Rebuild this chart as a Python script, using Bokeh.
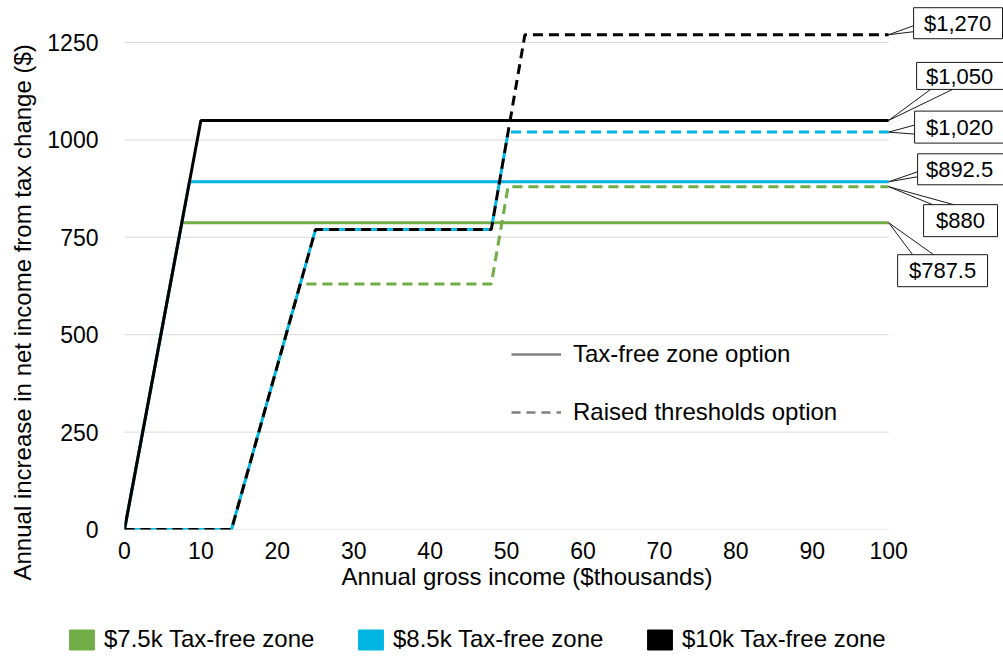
from bokeh.core.properties import value
from bokeh.embed import file_html
from bokeh.layouts import column
from bokeh.models import FixedTicker, Legend, LegendItem, Range1d, Title
from bokeh.plotting import figure
from bokeh.resources import INLINE

# ---------------------------------------------------------------- data
series_names = ["$7.5k Tax-free zone", "$8.5k Tax-free zone", "$10k Tax-free zone"]
series_colors = ["#70AD47", "#00B5E2", "#000000"]

# Tax-free zone option: gain climbs until the zone is used up, then flat
tfz_income = [[0, 7.5, 100], [0, 8.5, 100], [0, 10, 100]]
tfz_gain = [[0, 787.5, 787.5], [0, 892.5, 892.5], [0, 1050, 1050]]

# Raised thresholds option
rt_income = [
    [0, 14, 23, 48, 50.2, 100],
    [0, 14, 25, 48, 50.2, 100],
    [0, 14, 25, 48, 52.4, 100],
]
rt_gain = [
    [0, 0, 630, 630, 880, 880],
    [0, 0, 770, 770, 1020, 1020],
    [0, 0, 770, 770, 1270, 1270],
]

x_ticks = [0, 10, 20, 30, 40, 50, 60, 70, 80, 90, 100]
y_ticks = [0, 250, 500, 750, 1000, 1250]

# end-of-line value callouts
callout_values = [1270, 1050, 1020, 892.5, 880, 787.5]
callout_labels = ["$1,270", "$1,050", "$1,020", "$892.5", "$880", "$787.5"]

# ---------------------------------------------------------------- layout
FONT = "Liberation Sans"
W = 1003
MAIN_H, KEY_H = 600, 57
LEFT, FRAME_H = 123, 529         # frame offset / height (px)
X_PX = 7.65                      # px per $thousand
Y_PX = 0.3896                    # px per $
NAN = float("nan")

# callout geometry in px, relative to the line end:
# box (left, right, top, bottom), two pointer base points, text centre
callout_geom = [
    ((25, 114, -27, 4), [(25, -9), (25, -3)], (69, -11)),
    ((28, 125, -58, -31), [(42, -31), (64, -31)], (71, -44)),
    ((26, 125, -21, 11), [(26, -7), (26, 2)], (71, -5)),
    ((29, 125, -28, 3), [(29, -10), (29, -5)], (71, -12)),
    ((35, 109, 18, 50), [(44, 18), (65, 18)], (72, 34)),
    ((9, 99, 32, 64), [(24, 32), (45, 32)], (54, 48)),
]


def dx(px):
    return px / X_PX


def dy(px):
    return -px / Y_PX


p = figure(
    width=W, height=MAIN_H, output_backend="svg", toolbar_location=None,
    x_range=Range1d(0, (W - LEFT) / X_PX), y_range=Range1d(0, FRAME_H / Y_PX),
    min_border_left=LEFT, min_border_right=0, min_border_top=0,
    min_border_bottom=MAIN_H - FRAME_H,
)
p.frame_align = False
p.outline_line_color = None
p.background_fill_color = "white"
p.border_fill_color = "white"
p.xgrid.visible = False
p.ygrid.visible = False

for ax in (p.xaxis[0], p.yaxis[0]):
    ax.axis_line_color = None
    ax.major_tick_line_color = None
    ax.minor_tick_line_color = None
    ax.major_tick_in = 0
    ax.major_tick_out = 0
    ax.major_label_text_font = FONT
    ax.major_label_text_font_size = "23px"
    ax.major_label_text_color = "black"
p.xaxis.ticker = FixedTicker(ticks=x_ticks)
p.yaxis.ticker = FixedTicker(ticks=y_ticks)
p.xaxis.major_label_standoff = 12
p.yaxis.major_label_standoff = 26

# horizontal gridlines across the data span only
p.segment(x0=x_ticks[0], x1=x_ticks[-1], y0=y_ticks, y1=y_ticks,
          line_color="#d9d9d9", line_width=1)

# series
for xs, ys, c in zip(tfz_income, tfz_gain, series_colors):
    p.line(xs, ys, line_color=c, line_width=3)
dash_offsets = [0, 8, 0]
for xs, ys, c, off in zip(rt_income, rt_gain, series_colors, dash_offsets):
    p.line(xs, ys, line_color=c, line_width=3, line_dash="10 6",
           line_dash_offset=off)

# callouts
end_x = x_ticks[-1]
for v, lab, (box, base, tc) in zip(callout_values, callout_labels, callout_geom):
    l, r, t, b = box
    p.quad(left=end_x + dx(l), right=end_x + dx(r), top=v + dy(t), bottom=v + dy(b),
           fill_color="white", line_color="#1a1a1a", line_width=1)
    p.multi_line(xs=[[end_x, end_x + dx(bx)] for bx, _ in base],
                 ys=[[v, v + dy(by)] for _, by in base],
                 line_color="#1a1a1a", line_width=1)
    p.text(x=[end_x + dx(tc[0])], y=[v + dy(tc[1])], text=[lab],
           text_font=value(FONT), text_font_size="22px", text_color="black",
           text_align="center", text_baseline="middle")

# axis titles
p.add_layout(Title(text="Annual increase in net income from tax change ($)",
                   align="left", offset=-51, vertical_align="middle", standoff=15,
                   text_font=FONT, text_font_size="24px", text_font_style="normal",
                   text_color="black"), "left")
p.add_layout(Title(text="Annual gross income ($thousands)",
                   align="left", offset=217, vertical_align="middle", standoff=0,
                   text_font=FONT, text_font_size="24px", text_font_style="normal",
                   text_color="black"), "below")

# option-style key (inside the plot)
solid_key = p.line([NAN], [NAN], line_color="#808080", line_width=2.5)
dash_key = p.line([NAN], [NAN], line_color="#808080", line_width=2.5, line_dash="9 6")
style_legend = Legend(
    items=[LegendItem(label="Tax-free zone option", renderers=[solid_key]),
           LegendItem(label="Raised thresholds option", renderers=[dash_key])],
    location=(387, 103), orientation="vertical",
    glyph_width=50, glyph_height=24, label_height=24, label_standoff=12,
    spacing=30, padding=0, margin=0,
    label_text_font=FONT, label_text_font_size="24px", label_text_color="black",
    border_line_color=None, background_fill_alpha=0,
)
p.add_layout(style_legend, "center")

# series colour key, in a strip under the chart
key = figure(width=W, height=KEY_H, output_backend="svg", toolbar_location=None,
             x_range=Range1d(0, 1), y_range=Range1d(0, 1),
             x_axis_location=None, y_axis_location=None,
             min_border=0)
key.frame_align = False
key.outline_line_color = None
key.xgrid.visible = False
key.ygrid.visible = False
swatches = [key.quad(left=[NAN], right=[NAN], top=[NAN], bottom=[NAN],
                     fill_color=c, line_color=c) for c in series_colors]
series_legend = Legend(
    items=[LegendItem(label=n, renderers=[r]) for n, r in zip(series_names, swatches)],
    location=(66, 4), orientation="horizontal",
    glyph_width=31, glyph_height=25, label_height=25, label_width=222,
    label_standoff=7, spacing=29, padding=0, margin=0,
    label_text_font=FONT, label_text_font_size="24px", label_text_color="black",
    border_line_color=None, background_fill_alpha=0,
)
key.add_layout(series_legend, "center")

open("out.html", "w").write(file_html(column(p, key, spacing=0), INLINE))
